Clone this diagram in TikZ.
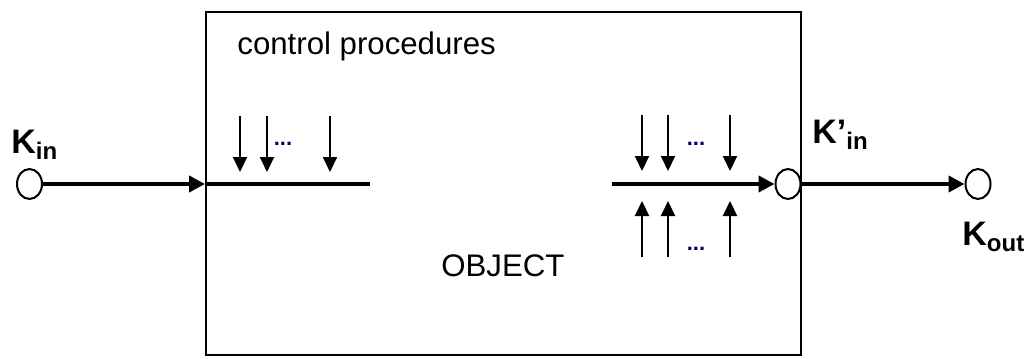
\documentclass[tikz,border=0pt]{standalone}
\usepackage{fontspec}
\setmainfont{Liberation Sans}
\usetikzlibrary{arrows.meta,positioning,calc,shapes.geometric}

\newcommand\portname[2]{\textbf{#1\raisebox{-3pt}{\fontsize{12}{14}\selectfont #2}}}

\begin{document}
\begin{tikzpicture}[
  x=0.5pt, y=-0.5pt,
  plain/.style={font=\fontsize{15.6}{18}\selectfont, inner sep=0pt},
  kname/.style={font=\fontsize{17}{20}\selectfont, inner sep=0pt, anchor=base west},
  port/.style={ellipse, draw, line width=1pt, minimum width=12.5pt,
    minimum height=15pt, inner sep=0pt},
  flow/.style={-{Triangle[length=8pt,width=8pt]}, line width=2pt},
  signal/.style={-{Triangle[length=7.5pt,width=7pt]}, line width=1pt},
  dotsnode/.style={font=\fontsize{11}{12}\selectfont\bfseries, inner sep=0pt,
    anchor=base, text=blue!40!black}
]
\useasboundingbox (0,0) rectangle (1031,358);

\node[draw, line width=1pt, minimum width=297.5pt, minimum height=171.5pt,
  inner sep=0pt, anchor=north west] (object) at (205,11) {};

\node[plain, anchor=base west] (ctrl) at (237,55) {control procedures};
\node[plain, anchor=base west] (objname) at (441,276) {OBJECT};

\node[port] (kin) at (29.5,184) {};
\node[port] (kinp) at (788,184) {};
\node[port] (kout) at (978,184) {};

\node[kname] (kin-label) at (11,153) {\portname{K}{in}};
\node[kname] (kinp-label) at (812,143) {\portname{K’}{in}};
\node[kname] (kout-label) at (962,245) {\portname{K}{out}};

\coordinate (left-end) at (370,184);
\coordinate (right-start) at (612,184);

\draw[flow] (kin) -- (kin -| object.west);
\draw[line width=2pt] (kin -| object.west) -- (left-end);
\draw[flow] (right-start) -- (kinp);
\draw[flow] (kinp) -- (kout);

\foreach \x in {240,267,330}
  \draw[signal] (\x,116) -- (\x,172);
\foreach \x in {642,668,730} {
  \draw[signal] (\x,115) -- (\x,171);
  \draw[signal] (\x,257) -- (\x,201);
}

\node[dotsnode] (dots-left) at (283,145) {...};
\node[dotsnode] (dots-top) at (696,145) {...};
\node[dotsnode] (dots-bottom) at (696,250) {...};
\end{tikzpicture}
\end{document}
